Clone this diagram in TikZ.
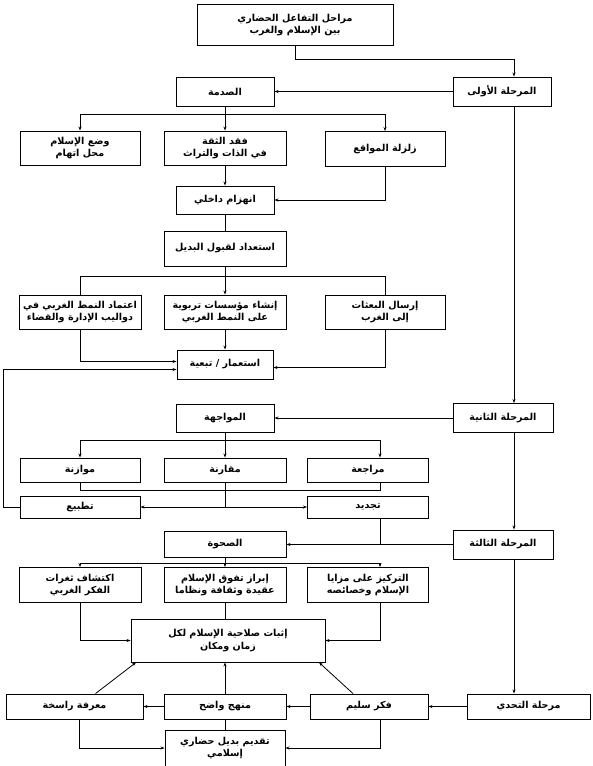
\documentclass[tikz,border=0pt]{standalone}
\usepackage{fontspec}
\usepackage{tikz}
\usetikzlibrary{arrows.meta, calc, positioning}
\newfontfamily\arabicfont[Script=Arabic]{DejaVu Sans}
\TeXXeTstate=1
\newcommand\AR[1]{\beginR #1\endR}
\tikzset{
  box/.style={draw, line width=0.9pt, rectangle, inner sep=0.5pt, align=center,
    font=\arabicfont\bfseries\fontsize{9.6}{12.5}\selectfont},
  arr/.style={-{Stealth[length=4pt,width=3pt]}},
  every path/.style={line width=0.8pt}
}

\begin{document}
\begin{tikzpicture}[x=1pt, y=-1pt]
  \useasboundingbox (0,0) rectangle (592,766);
  \coordinate (spine) at (514,59);
  \coordinate (colB) at (380,0);

  % first stage
  \node[box, minimum width=196pt, minimum height=41pt] (title) at (295,25) {\AR{مراحل التفاعل الحضاري}\\\AR{بين الإسلام والغرب}};
  \node[box, minimum width=98pt, minimum height=29pt] (p1) at (502,91.5) {\AR{المرحلة الأولى}};
  \node[box, minimum width=98pt, minimum height=29pt] (sadma) at (225,91.5) {\AR{الصدمة}};
  \node[box, minimum width=120pt, minimum height=34pt] (wad) at (80,148) {\AR{وضع الإسلام}\\\AR{محل اتهام}};
  \node[box, minimum width=122pt, minimum height=34pt] (faqd) at (225,148) {\AR{فقد الثقة}\\\AR{في الذات والتراث}};
  \node[box, minimum width=120pt, minimum height=35pt] (zal) at (385,149) {\AR{زلزلة المواقع}};
  \node[box, minimum width=98pt, minimum height=28pt] (inh) at (225,200) {\AR{انهزام داخلي}};
  \node[box, minimum width=122pt, minimum height=35pt] (ist) at (225,248.5) {\AR{استعداد لقبول البديل}};
  \node[box, minimum width=122pt, minimum height=34pt] (itm) at (80,312) {\AR{اعتماد النمط الغربي في}\\\AR{دواليب الإدارة والقضاء}};
  \node[box, minimum width=122pt, minimum height=34pt] (insh) at (225,312) {\AR{إنشاء مؤسسات تربوية}\\\AR{على النمط الغربي}};
  \node[box, minimum width=120pt, minimum height=34pt] (irs) at (385,312) {\AR{إرسال البعثات}\\\AR{إلى الغرب}};
  \node[box, minimum width=96pt, minimum height=29pt] (isti) at (225,364.5) {\AR{استعمار / تبعية}};

  % second stage
  \node[box, minimum width=100pt, minimum height=29pt] (p2) at (503,418) {\AR{المرحلة الثانية}};
  \node[box, minimum width=98pt, minimum height=28pt] (muw) at (225,418) {\AR{المواجهة}};
  \node[box, minimum width=120pt, minimum height=24pt] (muz) at (80,470) {\AR{موازنة}};
  \node[box, minimum width=122pt, minimum height=24pt] (muq) at (225,470) {\AR{مقارنة}};
  \node[box, minimum width=121pt, minimum height=24pt] (mur) at (368,470) {\AR{مراجعة}};
  \node[box, minimum width=120pt, minimum height=22pt] (tat) at (80,507) {\AR{تطبيع}};
  \node[box, minimum width=121pt, minimum height=22pt] (taj) at (368,507) {\AR{تجديد}};

  % third stage
  \node[box, minimum width=100pt, minimum height=29pt] (p3) at (503,544.5) {\AR{المرحلة الثالثة}};
  \node[box, minimum width=122pt, minimum height=26pt] (sahwa) at (225,544.5) {\AR{الصحوة}};
  \node[box, minimum width=122pt, minimum height=35pt] (ikt) at (80,585) {\AR{اكتشاف ثغرات}\\\AR{الفكر الغربي}};
  \node[box, minimum width=122pt, minimum height=35pt] (ibr) at (225,585) {\AR{إبراز تفوق الإسلام}\\\AR{عقيدة وثقافة ونظاما}};
  \node[box, minimum width=121pt, minimum height=35pt] (tark) at (368,585) {\AR{التركيز على مزايا}\\\AR{الإسلام وخصائصه}};
  \node[box, minimum width=194pt, minimum height=43pt] (ith) at (228,640.5) {\AR{إثبات صلاحية الإسلام لكل}\\\AR{زمان ومكان}};

  % challenge
  \node[box, minimum width=137pt, minimum height=25pt] (maa) at (74.5,706.5) {\AR{معرفة راسخة}};
  \node[box, minimum width=122pt, minimum height=25pt] (man) at (225,706.5) {\AR{منهج واضح}};
  \node[box, minimum width=118pt, minimum height=25pt] (fikr) at (369,706.5) {\AR{فكر سليم}};
  \node[box, minimum width=123pt, minimum height=25pt] (p4) at (528.5,706.5) {\AR{مرحلة التحدي}};
  \node[box, minimum width=120pt, minimum height=36pt] (taq) at (225,748) {\AR{تقديم بديل حضاري}\\\AR{إسلامي}};

  % spine
  \draw[arr] (title.south) |- (spine) -- (spine |- p1.north);
  \draw[arr] (spine |- p1.south) -- (spine |- p2.north);
  \draw[arr] (spine |- p2.south) -- (spine |- p3.north);
  \draw[arr] (spine |- p3.south) -- (spine |- p4.north);

  % shock
  \draw[arr] (p1.west) -- (sadma.east);
  \draw (sadma.south) -- ++(0,8) coordinate (d1);
  \draw[arr] (d1) -| (wad.north);
  \draw[arr] (d1) -- (faqd.north);
  \draw[arr] (d1) -| (zal.north);
  \draw[arr] (faqd.south) -- (inh.north);
  \draw[arr] (zal.south) |- (inh.east);
  \draw (inh.south) -- (ist.north);
  \draw (ist.south) -- ++(0,10) coordinate (d2);
  \draw (d2) -| (itm.north);
  \draw (d2) -| (irs.north);
  \draw[arr] (d2) -- (insh.north);
  \draw[arr] (itm.south) |- ([yshift=3pt]isti.west);
  \draw[arr] (insh.south) -- (isti.north);
  \draw[arr] (irs.south) |- ([yshift=-3pt]isti.east);

  % confrontation
  \draw[arr] (p2.west) -- (muw.east);
  \draw (muw.south) -- ++(0,8) coordinate (d3);
  \draw[arr] (d3) -| (muz.north);
  \draw[arr] (d3) -- (muq.north);
  \draw[arr] (d3) -| (colB |- mur.north);
  \draw (muz.south) -- ++(0,8) coordinate (m4) -| (colB |- mur.south);
  \draw (muq.south) -- (muq.south |- tat.east) coordinate (m5);
  \draw[arr] (m5) -- (tat.east);
  \draw[arr] (m5) -- (taj.west);
  \draw[arr] (tat.west) -- ++(-16,0) |- ([yshift=-5pt]isti.west);

  % awakening
  \draw[arr] (p3.west) -- (sahwa.east);
  \draw (colB |- taj.south) -- (colB |- p3.west);
  \draw (sahwa.south) -- ++(0,5) coordinate (d5);
  \draw[arr] (d5) -| (ikt.north);
  \draw[arr] (d5) -- (ibr.north);
  \draw[arr] (d5) -| (colB |- tark.north);
  \draw[arr] (ikt.south) |- (ith.west);
  \draw[arr] (colB |- tark.south) |- (ith.east);
  \draw (ibr.south) -- (ibr.south |- ith.north);

  % challenge
  \draw[arr] (p4.west) -- (fikr.east);
  \draw[arr] (fikr.west) -- (man.east);
  \draw[arr] (man.west) -- (maa.east);
  \draw[arr] (man.north) -- (man.north |- ith.south);
  \draw[arr] ([xshift=21pt]maa.north) -- ([xshift=-92pt]ith.south);
  \draw[arr] ([xshift=-16pt]fikr.north) -- ([xshift=91pt]ith.south);
  \draw (man.south) -- (taq.north);
  \draw[arr] ([xshift=4.5pt]maa.south) |- (taq.west);
  \draw[arr] (colB |- fikr.south) |- (taq.east);
\end{tikzpicture}
\end{document}
